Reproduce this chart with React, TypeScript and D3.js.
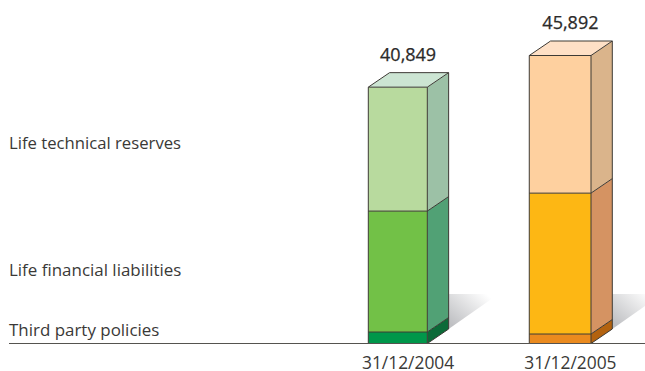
import React from "react";
import * as d3 from "d3";

const periods = ["31/12/2004", "31/12/2005"];
const totals = [40849, 45892];
const thirdParty = [1830, 1510];
const financial = [19270, 22450];
const technical = [19749, 21932];
const rowLabels = ["Life technical reserves", "Life financial liabilities", "Third party policies"];

const frontColors = [
  ["#00974a", "#72c147", "#b8da9e"],
  ["#ea8a1e", "#fdb714", "#fed09f"],
];
const sideColors = [
  ["#0b6a38", "#51a175", "#9cc1a6"],
  ["#b3620f", "#d59362", "#dab48b"],
];
const topColors = ["#cce5d3", "#fee0c6"];

const font = "'Open Sans', 'Noto Sans', sans-serif";
const inkLine = "#3d3a35";

export default function App() {
  const baseY = 343.5;
  const y = d3.scaleLinear().domain([0, 45892]).range([baseY, 55.5]);
  const x = d3.scaleBand().domain(periods).range([368.3, 589.8]).paddingInner(0.624);
  // The later column is drawn a touch wider than the earlier one.
  const widthTweak = [-1.5, 1.2];
  const dx = 21.3;
  const dy = -14.5;
  const pts = (p: [number, number][]) => p.map((q) => q.join(",")).join(" ");

  return (
    <svg
      width={645}
      height={371}
      style={{ position: "absolute", left: 0, top: 0, background: "#fff" }}
      fontFamily={font}
    >
      <defs>
        <linearGradient id="floorShade" x1="0" y1="1" x2="1" y2="0.2">
          <stop offset="0.1" stopColor="#bfc0c3" />
          <stop offset="0.95" stopColor="#ffffff" />
        </linearGradient>
      </defs>

      {periods.map((period, i) => {
        const x0 = x(period)!;
        const w = x.bandwidth() + widthTweak[i];
        const x1 = x0 + w;
        const stack = d3.stack<number>().keys(["a", "b", "c"]).value((_, k) =>
          k === "a" ? thirdParty[i] : k === "b" ? financial[i] : technical[i]
        )([0]);
        const topY = y(totals[i]);
        const labelX = x0 + w / 2 + 10.3;
        return (
          <g key={period}>
            {/* soft shadow cast on the floor behind the column */}
            <polygon
              points={pts([
                [x1 + dx, baseY - 49.5],
                [x1 + dx + 50, baseY - 49.5],
                [x1 + dx, baseY - 14.5],
              ])}
              fill="url(#floorShade)"
            />
            {stack.map((layer, s) => {
              const yb = y(layer[0][0]);
              const yt = y(layer[0][1]);
              return (
                <g key={s}>
                  <polygon
                    points={pts([
                      [x1, yb],
                      [x1 + dx, yb + dy],
                      [x1 + dx, yt + dy],
                      [x1, yt],
                    ])}
                    fill={sideColors[i][s]}
                  />
                  <rect x={x0} y={yt} width={w} height={yb - yt} fill={frontColors[i][s]} />
                </g>
              );
            })}
            <polygon
              points={pts([
                [x0, topY],
                [x0 + dx, topY + dy],
                [x1 + dx, topY + dy],
                [x1, topY],
              ])}
              fill={topColors[i]}
            />
            {/* segment edges */}
            {stack.slice(0, 2).map((layer, s) => {
              const yt = y(layer[0][1]);
              return (
                <polyline
                  key={s}
                  points={pts([
                    [x0, yt],
                    [x1, yt],
                    [x1 + dx, yt + dy],
                  ])}
                  fill="none"
                  stroke={inkLine}
                  strokeWidth={1}
                />
              );
            })}
            <polygon
              points={pts([
                [x0, baseY],
                [x0, topY],
                [x0 + dx, topY + dy],
                [x1 + dx, topY + dy],
                [x1 + dx, baseY + dy],
                [x1, baseY],
              ])}
              fill="none"
              stroke={inkLine}
              strokeWidth={1}
            />
            <polyline
              points={pts([
                [x0, topY],
                [x1, topY],
                [x1 + dx, topY + dy],
              ])}
              fill="none"
              stroke={inkLine}
              strokeWidth={1}
            />
            <line x1={x1} x2={x1} y1={topY} y2={baseY} stroke={inkLine} strokeWidth={1} />
            <text
              x={labelX}
              y={topY + dy - 12}
              textAnchor="middle"
              fontSize={18}
              fill="#2b2a29"
              stroke="#2b2a29"
              strokeWidth={0.25}
            >
              {d3.format(",")(totals[i])}
            </text>
            <text x={labelX} y={baseY + 25.5} textAnchor="middle" fontSize={17.4} fill="#3a3937">
              {period}
            </text>
          </g>
        );
      })}

      <line x1={9} x2={645} y1={baseY} y2={baseY} stroke="#55534f" strokeWidth={1} />

      {rowLabels.map((label, i) => (
        <text key={label} x={9} y={[149, 276, 336][i]} fontSize={[16.7, 16.95, 16.95][i]} fill="#3a3937">
          {label}
        </text>
      ))}
    </svg>
  );
}
